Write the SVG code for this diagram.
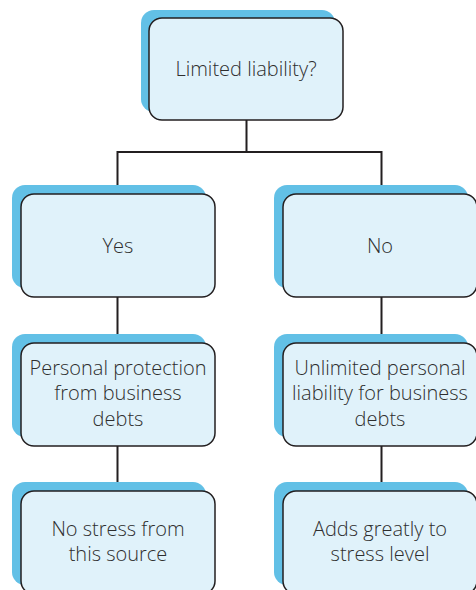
<svg xmlns="http://www.w3.org/2000/svg" width="476" height="590" viewBox="0 0 476 590">
<style>
.sh{fill:#62c0e6;}
.fr{fill:#e0f2fa;stroke:#231f20;stroke-width:1.5;}
.t{font-family:"Open Sans","Liberation Sans",sans-serif;font-size:20px;font-weight:300;fill:#2e2e2e;text-anchor:middle;}
.c{fill:none;stroke:#231f20;stroke-width:2;}
</style>
<rect width="476" height="590" fill="#ffffff"/>
<g id="connectors">
<path class="c" d="M246.5 120 V152 M117.5 152 H381.5 M117.5 151 V194 M381.5 151 V194 M117.5 297 V343 M381.5 297 V343 M117.5 446 V491 M381.5 446 V491"/>
</g>
<g id="n-top">
<rect class="sh" x="141" y="10" width="194" height="102" rx="13"/>
<rect class="fr" x="149" y="18" width="194" height="102" rx="13"/>
<text class="t" x="246" y="76">Limited liability?</text>
</g>
<g id="n-yes">
<rect class="sh" x="12" y="185" width="194" height="103" rx="13"/>
<rect class="fr" x="21" y="194" width="194" height="103" rx="13"/>
<text class="t" x="118" y="253">Yes</text>
</g>
<g id="n-no">
<rect class="sh" x="274" y="185" width="194" height="103" rx="13"/>
<rect class="fr" x="283" y="194" width="194" height="103" rx="13"/>
<text class="t" x="380" y="253">No</text>
</g>
<g id="n-protect">
<rect class="sh" x="12" y="334" width="194" height="103" rx="13"/>
<rect class="fr" x="21" y="343" width="194" height="103" rx="13"/>
<text class="t" x="118" y="375">Personal protection</text>
<text class="t" x="118" y="400">from business</text>
<text class="t" x="118" y="426">debts</text>
</g>
<g id="n-unlimited">
<rect class="sh" x="274" y="334" width="194" height="103" rx="13"/>
<rect class="fr" x="283" y="343" width="194" height="103" rx="13"/>
<text class="t" x="380" y="375">Unlimited personal</text>
<text class="t" x="380" y="400">liability for business</text>
<text class="t" x="380" y="426">debts</text>
</g>
<g id="n-nostress">
<rect class="sh" x="12" y="482" width="194" height="103" rx="13"/>
<rect class="fr" x="21" y="491" width="194" height="103" rx="13"/>
<text class="t" x="118" y="536">No stress from</text>
<text class="t" x="118" y="561">this source</text>
</g>
<g id="n-adds">
<rect class="sh" x="274" y="482" width="194" height="103" rx="13"/>
<rect class="fr" x="283" y="491" width="194" height="103" rx="13"/>
<text class="t" x="380" y="536">Adds greatly to</text>
<text class="t" x="380" y="561">stress level</text>
</g>
</svg>
